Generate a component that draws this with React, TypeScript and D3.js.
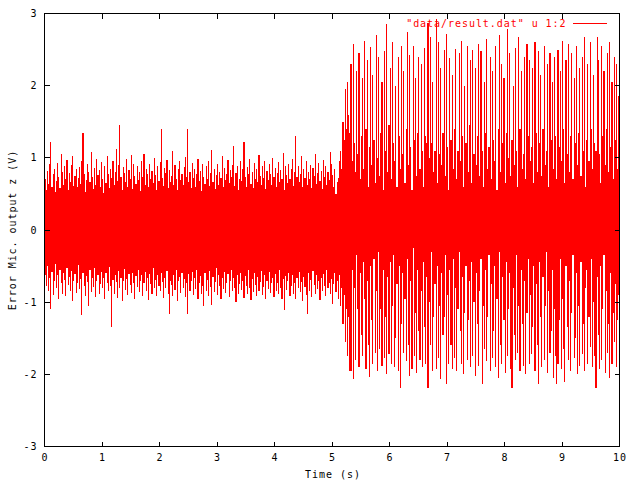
import React from "react";
import * as d3 from "d3";

// Sampling step of the envelope arrays (s)
const SAMPLE_STEP = 0.02;

// Upper extreme of the signal in each 0.02 s slot
const upperPeaks: number[] = [
  // 0 - 5.1 s
  0.70, 0.55, 0.82, 0.64, 0.91, 1.22, 0.60, 0.77, 0.85, 0.52,
  0.68, 0.93, 0.74, 0.58, 1.05, 0.80, 0.63, 0.88, 0.71, 0.97,
  0.56, 0.79, 0.66, 0.90, 1.02, 0.61, 0.75, 0.84, 0.59, 0.72,
  0.87, 0.64, 0.95, 1.34, 0.78, 0.53, 0.69, 0.92, 0.81, 0.66,
  1.08, 0.73, 0.57, 0.86, 0.62, 0.99, 0.76, 0.83, 0.60, 0.94,
  0.70, 0.51, 0.89, 0.65, 1.03, 0.77, 0.58, 0.84, 0.72, 0.96,
  0.63, 0.80, 1.12, 0.68, 0.90, 1.46, 0.74, 0.55, 0.87, 0.79,
  0.66, 0.98, 0.60, 0.83, 0.71, 1.04, 0.57, 0.92, 0.75, 0.64,
  0.88, 0.69, 0.81, 0.54, 0.95, 0.73, 1.06, 0.62, 0.85, 0.77,
  0.59, 0.91, 0.70, 0.82, 0.65, 1.00, 0.76, 0.56, 0.89, 0.68,
  0.94, 1.40, 0.72, 0.61, 0.86, 0.79, 0.97, 0.58, 0.83, 0.67,
  0.75, 1.09, 0.63, 0.90, 0.71, 0.55, 0.84, 0.96, 0.69, 0.78,
  0.62, 0.87, 1.01, 0.74, 1.40, 0.66, 0.81, 0.58, 0.93, 0.72,
  0.85, 0.60, 0.77, 0.99, 0.68, 0.82, 0.54, 0.91, 0.73, 0.64,
  0.88, 0.70, 0.95, 0.61, 0.79, 1.11, 0.67, 0.84, 0.57, 0.76,
  0.92, 0.63, 0.81, 0.72, 1.02, 0.59, 0.86, 0.69, 0.78, 0.97,
  0.65, 0.83, 0.74, 0.90, 1.17, 0.61, 0.79, 0.88, 0.56, 0.71,
  0.95, 0.68, 0.84, 1.22, 0.73, 0.60, 0.87, 0.77, 0.99, 0.64,
  0.80, 0.58, 0.93, 0.70, 0.85, 0.66, 1.04, 0.75, 0.62, 0.89,
  0.72, 0.96, 0.57, 0.82, 0.69, 0.91, 0.78, 0.63, 1.00, 0.74,
  0.86, 0.60, 0.79, 0.94, 0.67, 0.83, 0.71, 1.07, 0.55, 0.88,
  0.76, 0.65, 0.92, 0.70, 0.84, 0.98, 0.61, 0.80, 1.30, 0.73,
  0.89, 0.66, 0.77, 1.03, 0.59, 0.85, 0.72, 0.95, 0.63, 0.81,
  0.70, 0.90, 0.58, 0.86, 0.75, 1.05, 0.64, 0.79, 0.93, 0.68,
  0.82, 0.57, 0.97, 0.74, 0.88, 0.62, 0.80, 0.69, 1.08, 0.91,
  0.76, 0.60, 0.84, 0.50, 0.66,
  // 5.1 - 5.3 s
  0.72, 0.95, 1.10, 0.85, 1.50, 1.25, 1.95, 1.40, 2.05, 1.60, 1.35,
  // 5.32 - 10 s
  2.30, 0.95, 2.58, 1.20, 0.80, 2.20, 1.05, 2.45, 0.70, 1.30,
  2.10, 0.85, 2.62, 1.40, 2.35, 0.60, 1.15, 2.53, 0.90, 2.15,
  1.25, 0.65, 2.70, 1.00, 2.40, 0.75, 1.35, 2.05, 0.55, 2.48,
  1.10, 2.85, 0.80, 1.45, 2.25, 0.70, 2.60, 1.20, 0.95, 2.00,
  0.60, 2.40, 1.30, 0.85, 2.55, 1.05, 2.20, 0.65, 1.40, 2.75,
  0.90, 2.42, 1.15, 0.55, 2.55, 1.25, 2.10, 0.75, 1.35, 2.40,
  0.85, 2.30, 1.10, 0.60, 2.52, 1.30, 1.20, 2.87, 1.00, 2.68,
  1.20, 2.05, 0.80, 1.10, 2.93, 0.65, 2.60, 1.05, 2.25, 0.90,
  1.35, 2.50, 0.75, 2.72, 1.15, 0.55, 2.38, 1.25, 2.15, 0.85,
  1.40, 2.51, 0.70, 1.10, 2.45, 0.95, 2.62, 1.30, 0.60, 2.00,
  1.20, 2.55, 0.80, 1.45, 2.35, 0.65, 2.50, 1.05, 2.25, 0.90,
  1.30, 2.58, 0.75, 2.48, 1.10, 0.60, 2.05, 1.35, 2.65, 0.85,
  1.15, 2.40, 0.70, 2.20, 1.25, 0.95, 2.55, 0.55, 1.40, 2.70,
  0.80, 2.30, 1.20, 2.10, 0.65, 1.35, 2.79, 1.00, 2.45, 0.75,
  1.25, 2.00, 0.90, 2.52, 1.10, 0.60, 2.67, 1.40, 2.20, 0.85,
  1.05, 2.40, 0.70, 2.58, 1.30, 2.35, 0.95, 1.15, 2.25, 0.65,
  2.60, 1.35, 0.80, 2.48, 1.20, 2.15, 0.75, 1.40, 2.55, 0.90,
  1.10, 2.30, 0.60, 2.45, 1.25, 2.05, 0.85, 2.40, 1.30, 0.70,
  2.50, 1.15, 2.20, 0.95, 2.62, 1.40, 0.65, 2.35, 1.05, 2.58,
  0.80, 1.30, 2.45, 0.70, 2.10, 1.20, 2.55, 0.90, 1.35, 2.25,
  0.75, 2.40, 1.10, 2.67, 0.60, 1.25, 2.30, 0.95, 2.60, 1.40,
  0.85, 2.15, 1.20, 1.10, 2.67, 2.35, 1.05, 0.65, 2.55, 1.30,
  2.20, 0.90, 1.40, 2.45, 0.80, 2.60, 1.15, 2.05, 0.70, 2.40,
  1.25, 2.30, 0.85, 1.85,
];

// Lower extreme of the signal in each 0.02 s slot
const lowerPeaks: number[] = [
  // 0 - 5.1 s
  -0.62, -0.78, -0.50, -0.85, -0.67, -1.10, -0.58, -0.90, -0.71, -0.47,
  -0.80, -0.63, -0.95, -0.55, -0.74, -0.88, -0.60, -0.69, -0.92, -0.52,
  -0.76, -0.65, -0.84, -0.57, -0.98, -0.70, -0.61, -0.87, -0.73, -0.49,
  -0.82, -0.68, -1.18, -0.59, -0.77, -0.91, -0.64, -0.72, -1.05, -0.56,
  -0.86, -0.66, -0.79, -0.53, -0.93, -0.70, -0.62, -0.89, -0.75, -0.58,
  -0.81, -0.67, -0.96, -0.60, -0.74, -0.85, -0.51, -0.78, -1.34, -0.69,
  -0.88, -0.63, -0.72, -0.94, -0.57, -0.80, -0.66, -0.99, -0.71, -0.54,
  -0.83, -0.68, -0.90, -0.61, -0.76, -0.87, -0.59, -0.73, -0.95, -0.64,
  -0.79, -0.55, -0.86, -0.70, -0.62, -0.92, -0.74, -0.58, -0.84, -0.67,
  -0.97, -0.61, -0.75, -0.88, -0.53, -0.80, -0.69, -0.91, -0.63, -0.77,
  -0.85, -0.60, -0.72, -0.94, -0.66, -0.81, -0.57, -0.89, -1.16, -0.70,
  -0.76, -0.92, -0.62, -0.83, -0.55, -0.98, -0.71, -0.65, -0.87, -0.59,
  -0.80, -0.68, -0.93, -0.74, -1.16, -0.61, -0.85, -0.70, -0.58, -0.90,
  -0.66, -0.82, -0.55, -0.96, -0.73, -0.64, -0.88, -0.77, -1.06, -0.60,
  -0.84, -0.69, -0.91, -0.57, -0.79, -1.04, -0.65, -0.86, -0.72, -0.53,
  -0.90, -0.63, -0.78, -0.95, -0.67, -0.82, -0.58, -0.87, -0.74, -0.61,
  -0.93, -0.70, -0.56, -0.85, -0.66, -0.80, -1.00, -0.62, -0.89, -0.75,
  -0.59, -0.83, -0.71, -0.94, -0.64, -0.78, -0.88, -0.55, -0.81, -0.97,
  -0.68, -0.86, -0.60, -0.76, -0.92, -0.65, -0.84, -0.72, -0.57, -0.90,
  -0.79, -0.63, -0.95, -0.70, -0.82, -0.58, -0.87, -0.74, -0.66, -0.93,
  -0.61, -0.85, -0.73, -0.89, -0.56, -0.80, -0.96, -0.68, -1.11, -0.64,
  -0.83, -0.71, -0.59, -0.91, -0.77, -0.62, -0.88, -0.74, -0.95, -0.67,
  -0.81, -0.58, -0.86, -0.72, -0.99, -0.65, -0.79, -0.90, -1.16, -0.60,
  -0.84, -0.69, -0.93, -0.57, -0.76, -0.88, -0.63, -0.82, -0.70, -0.97,
  -0.66, -0.85, -0.61, -0.78, -0.92, -0.55, -0.80, -0.73, -0.89, -0.68,
  -1.02, -0.75, -0.60, -0.86, -0.70,
  // 5.1 - 5.3 s
  -0.95, -0.62, -1.05, -0.80, -1.30, -0.90, -1.55, -1.10, -1.75, -1.20, -1.95,
  // 5.32 - 10 s
  -1.95, -0.55, -2.06, -0.80, -1.80, -0.35, -1.10, -1.90, -0.60, -1.45,
  -1.75, -0.45, -0.95, -1.92, -0.70, -1.60, -2.04, -0.50, -1.25, -1.85,
  -0.40, -1.70, -0.85, -1.95, -0.30, -1.65, -1.10, -1.88, -0.55, -1.78,
  -1.20, -2.00, -0.65, -1.72, -0.45, -1.85, -1.05, -0.35, -1.90, -1.50,
  -0.75, -1.95, -0.50, -2.19, -1.30, -0.60, -1.70, -0.95, -1.82, -0.40,
  -1.60, -2.03, -0.70, -1.92, -0.25, -1.75, -1.15, -1.98, -0.55, -1.40,
  -1.80, -0.85, -1.90, -0.45, -1.35, -1.85, -0.65, -2.19, -1.00, -1.60,
  -0.30, -1.95, -1.20, -0.75, -1.92, -0.50, -1.78, -1.05, -2.07, -0.60,
  -1.45, -1.20, -0.35, -2.14, -0.90, -1.85, -0.55, -1.60, -1.92, -0.40,
  -1.78, -0.80, -1.95, -1.10, -0.30, -1.40, -1.85, -0.65, -2.00, -1.15,
  -0.50, -1.80, -1.25, -0.70, -1.90, -0.45, -1.75, -1.00, -2.02, -0.60,
  -1.30, -1.88, -0.85, -0.40, -2.13, -1.05, -1.65, -0.55, -1.82, -1.20,
  -0.35, -1.95, -0.75, -1.78, -1.40, -0.50, -1.90, -0.95, -2.05, -0.30,
  -1.60, -1.85, -0.65, -1.25, -1.98, -0.45, -1.75, -1.10, -0.60, -1.92,
  -2.19, -0.80, -1.45, -1.80, -0.35, -1.70, -1.05, -1.95, -0.55, -1.30,
  -1.88, -0.70, -2.00, -1.15, -0.40, -1.85, -0.90, -1.72, -1.35, -0.50,
  -1.95, -0.75, -1.60, -2.13, -0.45, -1.20, -1.90, -0.65, -1.80, -1.05,
  -0.30, -1.98, -0.85, -1.70, -1.40, -0.55, -2.05, -1.10, -1.75, -2.13,
  -1.85, -1.25, -0.40, -1.92, -0.95, -1.65, -2.10, -0.50, -1.35, -1.80,
  -0.70, -1.95, -1.15, -0.35, -1.78, -1.50, -0.60, -2.00, -1.05, -1.88,
  -0.45, -1.72, -1.30, -1.95, -0.80, -0.55, -1.85, -1.20, -1.62, -0.40,
  -1.90, -1.00, -1.75, -2.19, -0.65, -1.45, -1.92, -0.50, -1.80, -1.10,
  -0.35, -1.98, -0.85, -1.70, -1.30, -2.05, -0.60, -1.85, -1.15, -1.55,
  -0.75, -1.90, -1.25, -0.90,
];

const xTicks: number[] = [0, 1, 2, 3, 4, 5, 6, 7, 8, 9, 10];
const yTicks: number[] = [-3, -2, -1, 0, 1, 2, 3];
const xLabel = "Time (s)";
const yLabel = "Error Mic. output z (V)";
const legendLabel = '"data/result.dat" u 1:2';

const W = 640;
const H = 480;
const LEFT = 44.5;
const RIGHT = 619.5;
const TOP = 13.5;
const BOTTOM = 446.5;
const TICK = 5;
const FONT = "'DejaVu Sans Mono', 'Liberation Mono', monospace";

type Slot = { t: number; hi: number; lo: number };

export default function App() {
  const x = d3.scaleLinear().domain([0, 10]).range([LEFT, RIGHT]);
  const y = d3.scaleLinear().domain([-3, 3]).range([BOTTOM, TOP]);

  const n = Math.min(upperPeaks.length, lowerPeaks.length);
  const slots: Slot[] = [];
  for (let i = 0; i < n; i++) {
    slots.push({ t: i * SAMPLE_STEP, hi: upperPeaks[i], lo: lowerPeaks[i] });
  }
  // closing point so the last slot has its width
  slots.push({ t: n * SAMPLE_STEP, hi: upperPeaks[n - 1], lo: lowerPeaks[n - 1] });

  const area = d3
    .area<Slot>()
    .x((d) => x(d.t))
    .y0((d) => y(d.lo))
    .y1((d) => y(d.hi))
    .curve(d3.curveStepAfter);

  const textStyle: React.CSSProperties = {
    fontFamily: FONT,
    fontSize: 10,
    letterSpacing: 0.95,
  };

  return (
    <svg
      width={W}
      height={H}
      style={{ position: "absolute", left: 0, top: 0, background: "#fff" }}
    >
      <rect x={0} y={0} width={W} height={H} fill="#fff" />
      <path
        d={area(slots) || ""}
        fill="#ff0000"
        stroke="none"
        shapeRendering="crispEdges"
      />
      <g stroke="#000" strokeWidth={1} shapeRendering="crispEdges">
        <rect
          x={LEFT}
          y={TOP}
          width={RIGHT - LEFT}
          height={BOTTOM - TOP}
          fill="none"
        />
        {xTicks.map((t) => (
          <g key={"xt" + t}>
            <line x1={x(t)} x2={x(t)} y1={BOTTOM} y2={BOTTOM - TICK} />
            <line x1={x(t)} x2={x(t)} y1={TOP} y2={TOP + TICK} />
          </g>
        ))}
        {yTicks.map((t) => (
          <g key={"yt" + t}>
            <line x1={LEFT} x2={LEFT + TICK} y1={y(t)} y2={y(t)} />
            <line x1={RIGHT} x2={RIGHT - TICK} y1={y(t)} y2={y(t)} />
          </g>
        ))}
      </g>
      <g style={textStyle} fill="#000">
        {xTicks.map((t) => (
          <text key={"xl" + t} x={x(t) + 0.5} y={461} textAnchor="middle">
            {t}
          </text>
        ))}
        {yTicks.map((t) => (
          <text key={"yl" + t} x={37.5} y={y(t) + 3.5} textAnchor="end">
            {t}
          </text>
        ))}
        <text x={(LEFT + RIGHT) / 2 + 1} y={478} textAnchor="middle">
          {xLabel}
        </text>
        <text
          transform={`translate(15.5, ${(TOP + BOTTOM) / 2}) rotate(-90)`}
          textAnchor="middle"
        >
          {yLabel}
        </text>
      </g>
      <g>
        <text
          x={566.5}
          y={27}
          textAnchor="end"
          fill="#ff0000"
          style={textStyle}
        >
          {legendLabel}
        </text>
        <line
          x1={573}
          x2={607}
          y1={23.5}
          y2={23.5}
          stroke="#ff0000"
          strokeWidth={1}
          shapeRendering="crispEdges"
        />
      </g>
    </svg>
  );
}
